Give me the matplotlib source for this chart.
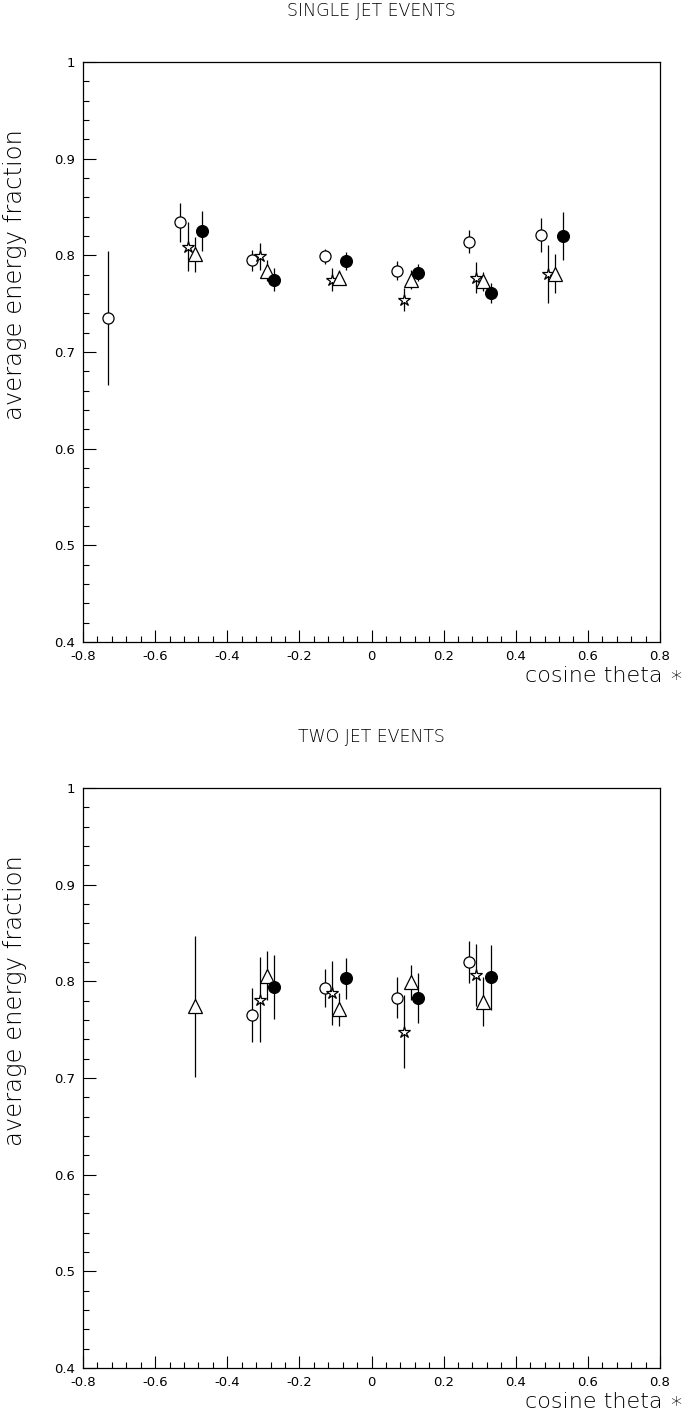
import numpy as np
import matplotlib.pyplot as plt
from matplotlib.ticker import MultipleLocator, FuncFormatter

# single jet events: open circle, star, triangle, filled circle
s_circ_x = [-0.73, -0.53, -0.33, -0.13, 0.07, 0.27, 0.47]
s_circ_y = [0.735, 0.834, 0.795, 0.799, 0.784, 0.814, 0.821]
s_circ_e = [0.069, 0.020, 0.011, 0.008, 0.010, 0.012, 0.018]

s_star_x = [-0.51, -0.31, -0.11, 0.09, 0.29, 0.49]
s_star_y = [0.809, 0.799, 0.775, 0.754, 0.777, 0.781]
s_star_e = [0.025, 0.014, 0.012, 0.012, 0.016, 0.030]

s_tri_x = [-0.49, -0.29, -0.09, 0.11, 0.31, 0.51]
s_tri_y = [0.801, 0.784, 0.777, 0.775, 0.773, 0.781]
s_tri_e = [0.018, 0.011, 0.008, 0.010, 0.010, 0.020]

s_fill_x = [-0.47, -0.27, -0.07, 0.13, 0.33, 0.53]
s_fill_y = [0.825, 0.775, 0.794, 0.782, 0.761, 0.820]
s_fill_e = [0.021, 0.012, 0.009, 0.009, 0.010, 0.025]

# two jet events
t_circ_x = [-0.33, -0.13, 0.07, 0.27]
t_circ_y = [0.765, 0.793, 0.783, 0.820]
t_circ_e = [0.028, 0.020, 0.021, 0.022]

t_star_x = [-0.31, -0.11, 0.09, 0.29]
t_star_y = [0.781, 0.788, 0.748, 0.807]
t_star_e = [0.044, 0.033, 0.038, 0.032]

t_tri_x = [-0.49, -0.29, -0.09, 0.11, 0.31]
t_tri_y = [0.774, 0.806, 0.771, 0.799, 0.779]
t_tri_e = [0.073, 0.025, 0.017, 0.018, 0.025]

t_fill_x = [-0.27, -0.07, 0.13, 0.33]
t_fill_y = [0.794, 0.803, 0.783, 0.804]
t_fill_e = [0.033, 0.021, 0.026, 0.034]

plt.rcParams['font.family'] = ['DejaVu Sans']
fig = plt.figure(figsize=(6.91, 14.2), dpi=100)

W, H = 691.0, 1420.0
def make_axes(top_px):
    return fig.add_axes([83 / W, 1 - (top_px + 580) / H, 577 / W, 580 / H])

def draw(ax, title, series):
    for x, y, e, m, fc, ms in series:
        ax.errorbar(x, y, yerr=e, fmt='none', ecolor='black', elinewidth=0.9, capsize=0)
        ax.plot(x, y, linestyle='none', marker=m, markersize=ms,
                markerfacecolor=fc, markeredgecolor='black', markeredgewidth=0.9)
    ax.set_xlim(-0.8, 0.8)
    ax.set_ylim(0.4, 1.0)
    ax.xaxis.set_major_locator(MultipleLocator(0.2))
    ax.xaxis.set_minor_locator(MultipleLocator(0.04))
    ax.yaxis.set_major_locator(MultipleLocator(0.1))
    ax.yaxis.set_minor_locator(MultipleLocator(0.02))
    ax.xaxis.set_major_formatter(FuncFormatter(lambda v, p: '%g' % round(v, 2)))
    ax.yaxis.set_major_formatter(FuncFormatter(lambda v, p: '%g' % round(v, 2)))
    ax.tick_params(which='both', direction='in', top=False, right=False,
                   labelsize=9.5, width=0.8, colors='black')
    ax.tick_params(which='major', length=9, pad=6)
    ax.tick_params(which='minor', length=4.5)
    for s in ax.spines.values():
        s.set_linewidth(0.9)
    ax.text(-0.118, 0.885, 'average energy fraction', transform=ax.transAxes,
            rotation=90, ha='center', va='top', fontsize=17.5,
            fontweight='light', color='black')
    ax.text(1.04, -0.042, 'cosine theta \u2217', transform=ax.transAxes,
            ha='right', va='top', fontsize=16, fontweight='light', color='black')
    ax.set_title(title, fontsize=12.5, fontweight='light', color='black', pad=33)

ax1 = make_axes(62)
draw(ax1, 'SINGLE JET EVENTS', [
    (s_circ_x, s_circ_y, s_circ_e, 'o', 'white', 8),
    (s_star_x, s_star_y, s_star_e, '*', 'white', 9),
    (s_tri_x, s_tri_y, s_tri_e, '^', 'white', 10),
    (s_fill_x, s_fill_y, s_fill_e, 'o', 'black', 8.5),
])

ax2 = make_axes(788)
draw(ax2, 'TWO JET EVENTS', [
    (t_circ_x, t_circ_y, t_circ_e, 'o', 'white', 8),
    (t_star_x, t_star_y, t_star_e, '*', 'white', 9),
    (t_tri_x, t_tri_y, t_tri_e, '^', 'white', 10),
    (t_fill_x, t_fill_y, t_fill_e, 'o', 'black', 8.5),
])

fig.savefig('out.png', dpi=100)
